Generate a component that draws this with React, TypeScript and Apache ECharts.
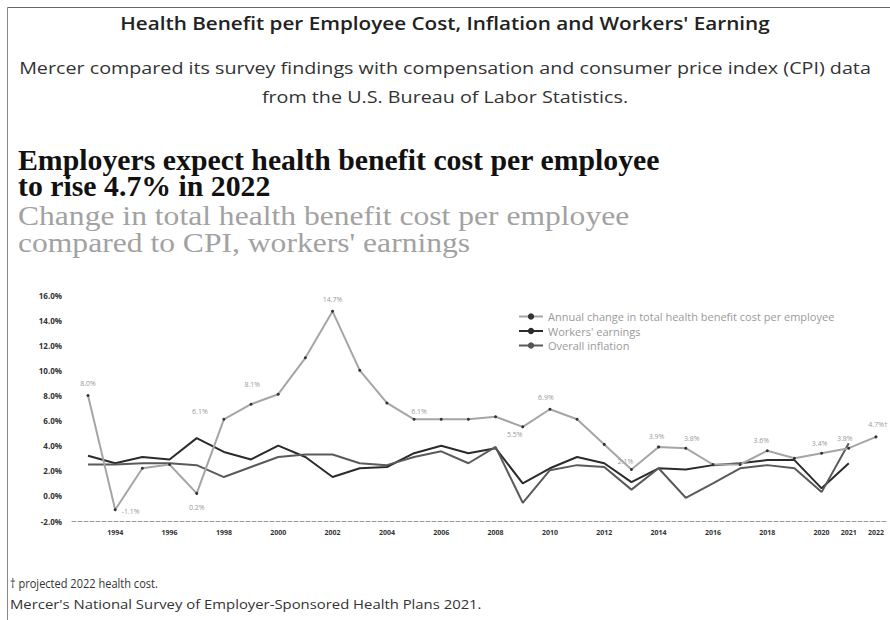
import React, { useEffect, useRef } from "react";
import * as echarts from "echarts";

const years = [1993, 1994, 1995, 1996, 1997, 1998, 1999, 2000, 2001, 2002, 2003, 2004, 2005, 2006, 2007, 2008, 2009, 2010, 2011, 2012, 2013, 2014, 2015, 2016, 2017, 2018, 2019, 2020, 2021, 2022];

const healthCost = [8.0, -1.1, 2.2, 2.5, 0.2, 6.1, 7.3, 8.1, 11.0, 14.7, 10.0, 7.4, 6.1, 6.1, 6.1, 6.3, 5.5, 6.9, 6.1, 4.1, 2.1, 3.9, 3.8, 2.5, 2.5, 3.6, 3.0, 3.4, 3.8, 4.7];
const workersEarnings = [3.2, 2.6, 3.1, 2.9, 4.6, 3.5, 2.9, 4.0, 3.1, 1.5, 2.2, 2.3, 3.4, 4.0, 3.4, 3.8, 1.0, 2.2, 3.1, 2.6, 1.1, 2.2, 2.1, 2.45, 2.6, 2.85, 2.85, 0.6, 2.6];
const overallInflation = [2.5, 2.5, 2.6, 2.6, 2.45, 1.5, 2.3, 3.1, 3.3, 3.3, 2.6, 2.45, 3.1, 3.55, 2.6, 3.9, -0.55, 2.05, 2.45, 2.3, 0.5, 2.2, -0.15, 1.0, 2.2, 2.45, 2.2, 0.3, 4.2];

// labelled points of the health cost series: year -> label text
const healthLabels: Record<number, string> = {
  1993: "8.0%", 1994: "-1.1%", 1997: "0.2%", 1998: "6.1%", 2000: "8.1%", 2002: "14.7%",
  2005: "6.1%", 2009: "5.5%", 2010: "6.9%", 2013: "2.1%", 2014: "3.9%", 2015: "3.8%",
  2018: "3.6%", 2020: "3.4%", 2021: "3.8%", 2022: "4.7%\u2020",
};

const xTickLabels = [1994, 1996, 1998, 2000, 2002, 2004, 2006, 2008, 2010, 2012, 2014, 2016, 2018, 2020, 2021, 2022];
const yTicks = { min: -2, max: 16, step: 2 };

const seriesNames = [
  "Annual change in total health benefit cost per employee",
  "Workers' earnings",
  "Overall inflation",
];

// label placement tweaks (style only)
const labelPlacement: Record<number, any> = {
  1993: { position: "top", offset: [0, -2] },
  1994: { position: "right", offset: [0, 2] },
  1997: { position: "bottom", offset: [0, 4] },
  1998: { position: "top", offset: [-24, 2] },
  2000: { position: "top", offset: [-26, 0] },
  2002: { position: "top", offset: [0, -2] },
  2005: { position: "top", offset: [5, 2] },
  2009: { position: "bottom", offset: [-8, -2] },
  2010: { position: "top", offset: [-4, -2] },
  2013: { position: "top", offset: [-6, 2] },
  2014: { position: "top", offset: [-2, 0] },
  2015: { position: "top", offset: [6, 0] },
  2018: { position: "top", offset: [-6, 0] },
  2020: { position: "top", offset: [-2, 0] },
  2021: { position: "top", offset: [-4, 0] },
  2022: { position: "top", offset: [2, -2] },
};

export default function App() {
  const ref = useRef<HTMLDivElement>(null);
  useEffect(() => {
    if (!ref.current) return;
    const chart = echarts.init(ref.current, null, { renderer: "svg" });

    const healthData = years.map((y, i) => {
      const d: any = { value: [y, healthCost[i]] };
      if (healthLabels[y]) {
        d.label = {
          show: true,
          formatter: healthLabels[y],
          ...labelPlacement[y],
        };
      }
      return d;
    });
    const earnData = workersEarnings.map((v, i) => [years[i], v]);
    const inflData = overallInflation.map((v, i) => [years[i], v]);

    const serif = "'Liberation Serif', 'Times New Roman', serif";
    const sans = "'Open Sans', 'Noto Sans', sans-serif";

    chart.setOption({
      animation: false,
      backgroundColor: "#ffffff",
      graphic: [
        { type: "line", shape: { x1: 7.5, y1: 7.5, x2: 890, y2: 7.5 }, style: { stroke: "#666", lineWidth: 1 } },
        { type: "line", shape: { x1: 7.5, y1: 7.5, x2: 7.5, y2: 620 }, style: { stroke: "#888", lineWidth: 1 } },
        {
          type: "text", x: 445, y: 23, scaleX: 1.15,
          style: { text: "Health Benefit per Employee Cost, Inflation and Workers' Earning", fill: "#222", font: `600 18px ${sans}`, textAlign: "center", textVerticalAlign: "middle" },
        },
        {
          type: "text", x: 445, y: 67, scaleX: 1.16,
          style: { text: "Mercer compared its survey findings with compensation and consumer price index (CPI) data", fill: "#333", font: `400 17px ${sans}`, textAlign: "center", textVerticalAlign: "middle" },
        },
        {
          type: "text", x: 445, y: 96, scaleX: 1.16,
          style: { text: "from the U.S. Bureau of Labor Statistics.", fill: "#333", font: `400 17px ${sans}`, textAlign: "center", textVerticalAlign: "middle" },
        },
        {
          type: "text", x: 18, y: 160, scaleX: 1.028,
          style: { text: "Employers expect health benefit cost per employee", fill: "#111", font: `bold 29px ${serif}`, textAlign: "left", textVerticalAlign: "middle" },
        },
        {
          type: "text", x: 18, y: 186, scaleX: 1.028,
          style: { text: "to rise 4.7% in 2022", fill: "#111", font: `bold 29px ${serif}`, textAlign: "left", textVerticalAlign: "middle" },
        },
        {
          type: "text", x: 18, y: 216, scaleX: 1.17,
          style: { text: "Change in total health benefit cost per employee", fill: "#a2a2a2", font: `400 27px ${serif}`, textAlign: "left", textVerticalAlign: "middle" },
        },
        {
          type: "text", x: 18, y: 243, scaleX: 1.17,
          style: { text: "compared to CPI, workers' earnings", fill: "#a2a2a2", font: `400 27px ${serif}`, textAlign: "left", textVerticalAlign: "middle" },
        },
        {
          type: "text", x: 10, y: 583, scaleX: 0.92,
          style: { text: "\u2020 projected 2022 health cost.", fill: "#333", font: `400 12px ${sans}`, textAlign: "left", textVerticalAlign: "middle" },
        },
        {
          type: "text", x: 10, y: 604, scaleX: 1.19,
          style: { text: "Mercer's National Survey of Employer-Sponsored Health Plans 2021.", fill: "#333", font: `400 12.5px ${sans}`, textAlign: "left", textVerticalAlign: "middle" },
        },
      ],
      legend: {
        orient: "vertical",
        left: 513,
        top: 306,
        itemWidth: 24,
        itemHeight: 8,
        itemGap: 3.5,
        textStyle: { fontSize: 11, lineHeight: 11, color: "#9a9a9a", fontFamily: sans },
        data: seriesNames,
      },
      grid: { left: 72, right: 4, top: 295, bottom: 99 },
      xAxis: {
        type: "value",
        min: 1992.41,
        max: 2022.37,
        splitLine: { show: false },
        axisTick: { show: false },
        axisLine: { show: true, onZero: false, lineStyle: { color: "#999", type: "dashed", width: 1 } },
        axisLabel: {
          customValues: xTickLabels,
          formatter: (v: number) => String(v),
          fontSize: 7,
          fontWeight: "bold",
          color: "#333",
          margin: 8,
          fontFamily: sans,
        },
      },
      yAxis: {
        type: "value",
        min: yTicks.min,
        max: yTicks.max,
        interval: yTicks.step,
        axisLine: { show: false },
        axisTick: { show: false },
        splitLine: { show: false },
        axisLabel: {
          formatter: (v: number) => v.toFixed(1) + "%",
          fontSize: 8,
          fontWeight: "bold",
          color: "#333",
          margin: 10,
          fontFamily: sans,
        },
      },
      series: [
        {
          name: seriesNames[0],
          type: "line",
          data: healthData,
          symbol: "circle",
          symbolSize: 3,
          itemStyle: { color: "#333" },
          lineStyle: { color: "#a5a5a5", width: 2 },
          label: { fontSize: 7, color: "#999", fontFamily: sans },
          z: 3,
        },
        {
          name: seriesNames[1],
          type: "line",
          data: earnData,
          showSymbol: false,
          symbol: "none",
          itemStyle: { color: "#2b2b2b" },
          lineStyle: { color: "#2b2b2b", width: 2 },
          z: 2,
        },
        {
          name: seriesNames[2],
          type: "line",
          data: inflData,
          showSymbol: false,
          symbol: "none",
          itemStyle: { color: "#555" },
          lineStyle: { color: "#5a5a5a", width: 2 },
          z: 2,
        },
      ],
    });
    return () => chart.dispose();
  }, []);

  return (
    <div
      ref={ref}
      style={{ position: "fixed", left: 0, top: 0, width: 890, height: 620, background: "#fff" }}
    />
  );
}
